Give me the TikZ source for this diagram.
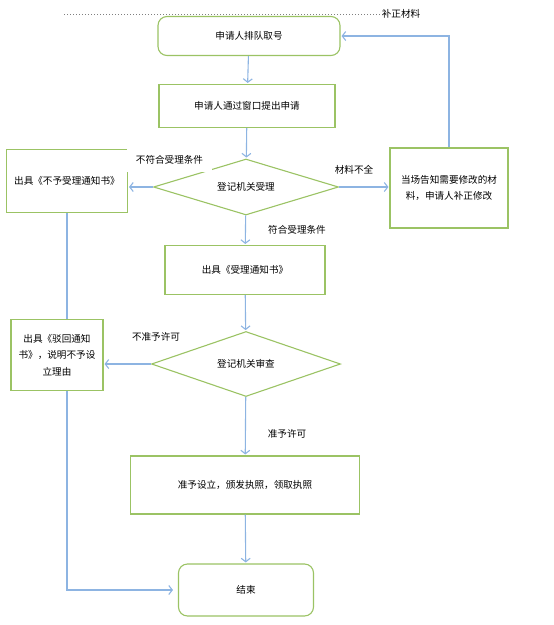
\documentclass[tikz,border=0pt]{standalone}
\usepackage{fontspec}
\newfontfamily\cjk{Noto Sans CJK SC}
\usepackage{xcolor}
\usetikzlibrary{positioning,shapes.geometric,arrows.meta}

\definecolor{boxgreen}{RGB}{155,195,100}
\definecolor{flowblue}{RGB}{141,180,226}

\tikzset{
  base/.style={draw=boxgreen, line width=1.1pt, fill=white, inner sep=0pt, align=center,
    font=\cjk\fontsize{9.6}{16.5}\selectfont},
  stepbox/.style={base, rectangle},
  roundbox/.style={base, rectangle, rounded corners=9pt},
  decide/.style={base, diamond, aspect=3.3},
  link/.style={draw=flowblue, line width=1.1pt},
  flow/.style={link, -{Straight Barb[length=3.5pt,width=9pt]}, shorten >=1pt},
  tag/.style={fill=white, inner sep=1pt, font=\cjk\fontsize{9.6}{11}\selectfont}
}

\begin{document}
\begin{tikzpicture}[x=1pt,y=-1pt]
  \useasboundingbox (0,0) rectangle (554,625);

  % main column
  \node[roundbox, minimum width=182pt, minimum height=39pt] (take) at (249,36) {申请人排队取号};
  \node[stepbox, minimum width=176pt, minimum height=43pt] (apply) at (247,106) {申请人通过窗口提出申请};
  \node[decide, minimum width=185pt, minimum height=56pt] (accept) at (246,187) {登记机关受理};
  \node[stepbox, minimum width=160pt, minimum height=49pt] (notice) at (245,270) {出具《受理通知书》};
  \node[decide, minimum width=189pt, minimum height=65pt] (review) at (246,364) {登记机关审查};
  \node[stepbox, minimum width=229pt, minimum height=58pt] (grant) at (245,485) {准予设立，颁发执照，领取执照};
  \node[roundbox, minimum width=135pt, minimum height=52pt] (finish) at (246,590) {结束};

  % side boxes
  \node[stepbox, minimum width=121pt, minimum height=63pt] (refuse) at (67,181) {出具《不予受理通知书》};
  \node[stepbox, minimum width=118pt, minimum height=80pt] (amend) at (449,188) {当场告知需要修改的材\\料，申请人补正修改};
  \node[stepbox, minimum width=92pt, minimum height=71pt] (reject) at (57,355) {出具《驳回通知\\书》，说明不予设\\立理由};

  % connectors
  \draw[flow] (take) -- (apply);
  \draw[flow] (apply) -- (accept);
  \draw[flow] (accept) -- (notice);
  \draw[flow] (notice) -- (review);
  \draw[flow] (review) -- (grant);
  \draw[flow] (grant) -- (finish);
  \draw[flow] (accept.west) -- (accept.west -| refuse.east);
  \draw[flow] (accept.east) -- (accept.east -| amend.west);
  \draw[flow] (amend.north) |- (take.east);
  \draw[flow] (review.west) -- (review.west -| reject.east);
  \draw[link] (refuse.south) -- (refuse.south |- reject.north);
  \draw[flow, shorten >=5pt] (refuse.south |- reject.south) |- (finish.west);

  % labels
  \node[tag, minimum width=85pt, minimum height=24pt] (nofit) at (169.5,160) {不符合受理条件};
  \node[tag] (lack) at (354,170) {材料不全};
  \node[tag] (fit) at (297,230) {符合受理条件};
  \node[tag] (nogrant) at (156,337) {不准予许可};
  \node[tag] (ok) at (287,434) {准予许可};
  \node[tag] (fix) at (401,14) {补正材料};
  \coordinate (rule) at (64,14);
  \draw[gray, line width=1pt, dash pattern=on 1pt off 2pt] (rule) -- (fix.west);
\end{tikzpicture}
\end{document}
